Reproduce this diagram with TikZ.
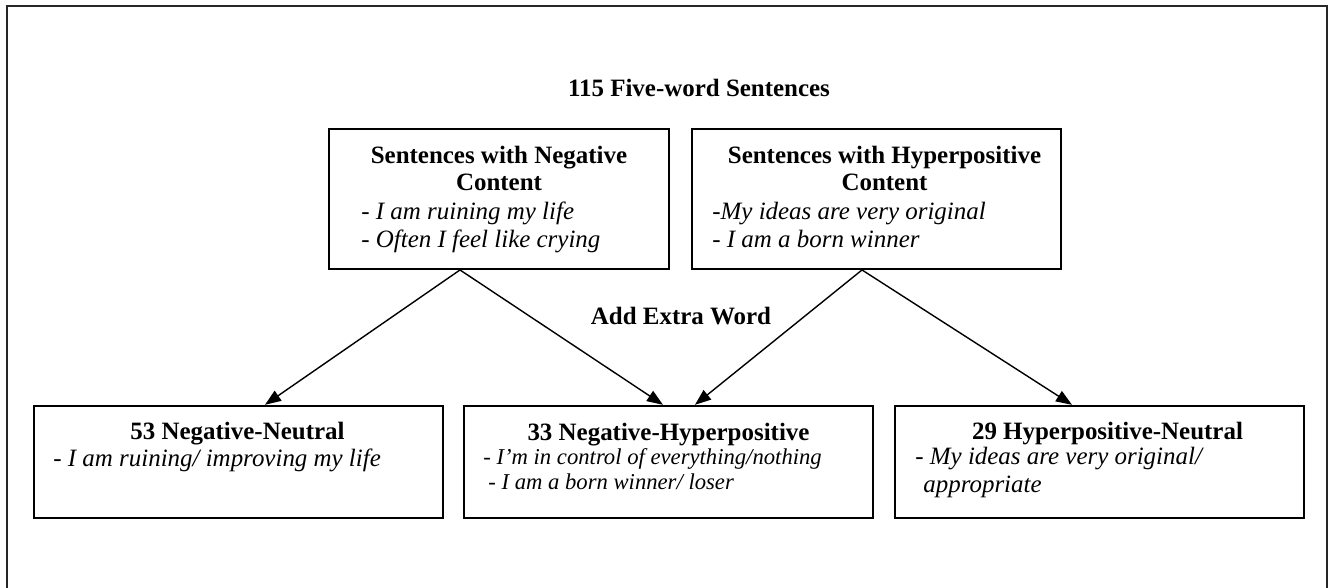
\documentclass[tikz,border=0pt]{standalone}
\usepackage{fontspec}
\setmainfont{Liberation Serif}
\usetikzlibrary{arrows.meta, positioning, calc}

\begin{document}
\begin{tikzpicture}[
        x=0.02cm, y=-0.02cm,
        % Styles
        box/.style={rectangle, draw=black, line width=1.1pt, inner sep=0pt},
        topbox/.style={box, minimum height=2.8cm},
        resultbox/.style={box, minimum width=8.18cm, minimum height=2.25cm},
        head/.style={font=\fontsize{14.2}{15.9}\selectfont\bfseries, align=center, inner sep=0pt},
        example/.style={font=\fontsize{14.2}{15.9}\selectfont\itshape, align=left, inner sep=0pt},
        arrow/.style={-{Triangle[length=0.32cm, width=0.24cm]}, line width=0.8pt},
    ]

    \useasboundingbox (0,0) rectangle (1336,588);

    % Outer frame (bottom edge is cut off)
    \draw[line width=1.1pt, black!85] (7,588) -- (7,6) -- (1327,6) -- (1327,588);

    % Title
    \node[head, anchor=base] (title) at (699,97) {115 Five-word Sentences};

    % Source sentences (base = last line)
    \node[topbox, minimum width=6.8cm] (neg) at (499,199) {};
    \node[topbox, minimum width=7.38cm] (hyp) at (876.5,199) {};
    \node[head, anchor=base] (negHead) at (499,191) {Sentences with Negative\\Content};
    \node[example, anchor=base west] (negEx) at (361,247) {- I am ruining my life\\- Often I feel like crying};
    \node[head, anchor=base] (hypHead) at (884.5,191) {Sentences with Hyperpositive\\Content};
    \node[example, anchor=base west] (hypEx) at (712,247) {-My ideas are very original\\- I am a born winner};

    % Middle label
    \node[head, anchor=base] (extra) at (681,324) {Add Extra Word};

    % Resulting sentence sets
    \node[resultbox] (nn) at (238.5,462) {};
    \node[resultbox] (nh) at (668.5,462) {};
    \node[resultbox] (hn) at (1099.5,462) {};
    \node[head, anchor=base] (nnHead) at (237.5,439) {53 Negative-Neutral};
    \node[example, anchor=base west] (nnEx) at (53,466) {- I am ruining/ improving my life};
    \node[head, anchor=base] (nhHead) at (668.5,440) {33 Negative-Hyperpositive};
    \node[example, font=\fontsize{12.9}{13.7}\selectfont\itshape, anchor=base west] (nhEx) at (483,489) {- I’m in control of everything/nothing\\\hspace{0.1cm}- I am a born winner/ loser};
    \node[head, anchor=base] (hnHead) at (1107.5,439) {29 Hyperpositive-Neutral};
    \node[example, anchor=base west] (hnEx) at (915,492) {- My ideas are very original/\\\hspace{0.16cm}appropriate};

    % Arrows
    \draw[arrow] ([xshift=-0.78cm]neg.south) -- ([xshift=0.53cm]nn.north);
    \draw[arrow] ([xshift=-0.78cm]neg.south) -- ([xshift=-0.11cm]nh.north);
    \draw[arrow] ([xshift=-0.29cm]hyp.south) -- ([xshift=0.53cm]nh.north);
    \draw[arrow] ([xshift=-0.29cm]hyp.south) -- ([xshift=-0.55cm]hn.north);

\end{tikzpicture}
\end{document}
